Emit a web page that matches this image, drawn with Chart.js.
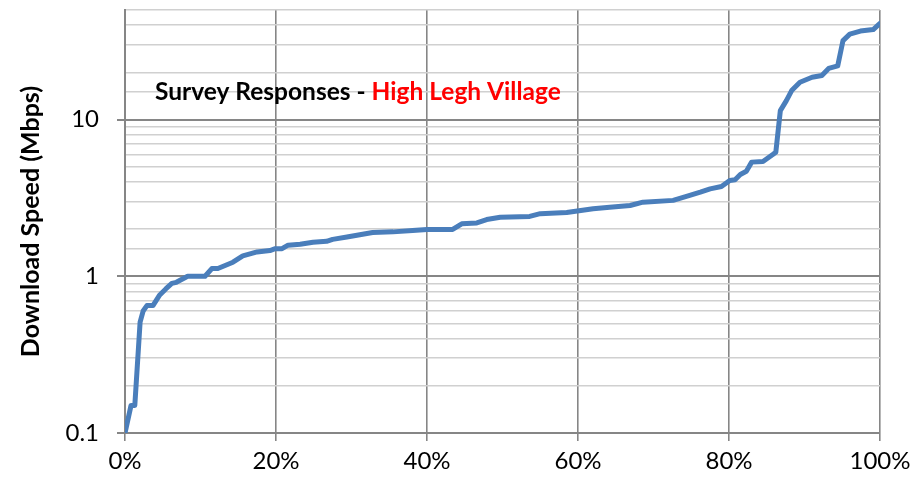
<!DOCTYPE html>
<html>
<head>
<meta charset="utf-8">
<script src="https://cdn.jsdelivr.net/npm/chart.js@4/dist/chart.umd.min.js"></script>
<style>
  html, body { margin: 0; padding: 0; background: #fff; }
  #wrap { width: 922px; height: 478px; }
</style>
</head>
<body>
<div id="wrap"><canvas id="c" width="922" height="478"></canvas></div>
<script>
// ---- Data ----
const percentResponses = [0, 0.8, 1.3, 2.0, 2.4, 2.9, 3.7, 4.6, 5.4, 6.2, 6.8, 8.3, 10.6, 11.5, 12.3, 14.3, 15.6, 17.5, 19.2, 19.9, 20.8, 21.6, 23.2, 24.9, 26.7, 27.5, 29.4, 31.1, 32.8, 35.5, 38.1, 40.0, 43.4, 44.6, 46.6, 47.9, 49.7, 53.6, 55.0, 58.5, 62.0, 64.2, 66.9, 68.6, 72.6, 74.8, 76.2, 77.5, 79.0, 80.1, 80.8, 81.5, 82.3, 83.0, 84.5, 85.8, 86.2, 86.8, 87.6, 88.3, 89.4, 91.0, 92.3, 93.2, 94.4, 95.1, 96.0, 97.4, 99.1, 100];
const downloadSpeeds = [0.1, 0.15, 0.15, 0.51, 0.6, 0.65, 0.65, 0.76, 0.83, 0.9, 0.915, 1.0, 1.0, 1.12, 1.12, 1.23, 1.35, 1.43, 1.46, 1.5, 1.5, 1.58, 1.6, 1.65, 1.67, 1.72, 1.78, 1.84, 1.9, 1.92, 1.96, 1.99, 1.99, 2.16, 2.19, 2.3, 2.38, 2.41, 2.51, 2.55, 2.7, 2.76, 2.83, 2.97, 3.05, 3.28, 3.44, 3.61, 3.74, 4.09, 4.13, 4.46, 4.68, 5.35, 5.4, 5.98, 6.19, 11.4, 13.2, 15.3, 17.3, 18.6, 19.1, 21.2, 22.0, 31.9, 35.1, 36.7, 37.5, 41.1];
const yTickLabels = [0.1, 1, 10];
const xTickLabels = [0, 20, 40, 60, 80, 100];
const titleBlack = 'Survey Responses - ';
const titleRed = 'High Legh Village';
const yAxisTitle = 'Download Speed (Mbps)';

const points = percentResponses.map((x, i) => ({ x: x, y: downloadSpeeds[i] }));

const MAJOR = '#868686';
const MINOR = '#d0d0d0';
function majorOf(v) {
  return yTickLabels.find(t => Math.abs(Math.log10(v) - Math.log10(t)) < 1e-6);
}
function isMajor(v) { return majorOf(v) !== undefined; }

const innerTitle = {
  id: 'innerTitle',
  afterDraw(chart) {
    const ctx = chart.ctx;
    ctx.save();
    ctx.font = 'bold 24.5px Lato';
    ctx.textBaseline = 'middle';
    ctx.textAlign = 'left';
    const x0 = 155, y0 = 92;
    ctx.fillStyle = '#000000';
    ctx.fillText(titleBlack, x0, y0);
    const w = ctx.measureText(titleBlack).width;
    ctx.fillStyle = '#ff0000';
    ctx.fillText(titleRed, x0 + w, y0);
    ctx.restore();
  }
};

new Chart(document.getElementById('c'), {
  type: 'line',
  data: {
    datasets: [{
      data: points,
      borderColor: '#4a7ebb',
      borderWidth: 5,
      pointRadius: 0,
      tension: 0,
      fill: false,
      borderJoinStyle: 'round',
      borderCapStyle: 'round'
    }]
  },
  options: {
    responsive: false,
    animation: false,
    devicePixelRatio: 1,
    layout: { padding: { top: 10, right: 42, left: 0, bottom: 0 } },
    plugins: { legend: { display: false }, tooltip: { enabled: false }, title: { display: false } },
    scales: {
      x: {
        type: 'linear',
        min: 0, max: 100,
        afterBuildTicks(scale) { scale.ticks = xTickLabels.map(v => ({ value: v })); },
        afterFit(scale) { scale.height = 45; scale.paddingLeft = 0; scale.paddingRight = 0; },
        border: { display: true, color: MAJOR, width: 2 },
        grid: { color: MAJOR, lineWidth: 1.6, tickLength: 8, tickColor: MAJOR, tickWidth: 1.6 },
        ticks: {
          callback: v => v + '%',
          color: '#000',
          font: { family: 'Lato', size: 24 },
          padding: 6,
          maxRotation: 0
        }
      },
      y: {
        type: 'logarithmic',
        min: 0.1, max: 50,
        afterFit(scale) { scale.width = 125; scale.paddingTop = 0; scale.paddingBottom = 0; },
        border: { display: true, color: MAJOR, width: 2 },
        grid: {
          color: ctx => isMajor(ctx.tick.value) ? MAJOR : MINOR,
          lineWidth: ctx => isMajor(ctx.tick.value) ? 2 : 1.6,
          tickLength: 8,
          tickColor: ctx => isMajor(ctx.tick.value) ? MAJOR : 'rgba(0,0,0,0)',
          tickWidth: 2
        },
        ticks: {
          autoSkip: false,
          callback: v => isMajor(v) ? String(majorOf(v)) : '',
          color: '#000',
          font: { family: 'Lato', size: 24 },
          padding: 18
        },
        title: {
          display: true,
          text: yAxisTitle,
          color: '#000',
          font: { family: 'Lato', size: 25, weight: 'bold' },
          padding: { top: 16, bottom: 0 }
        }
      }
    }
  },
  plugins: [innerTitle]
});
</script>
</body>
</html>
